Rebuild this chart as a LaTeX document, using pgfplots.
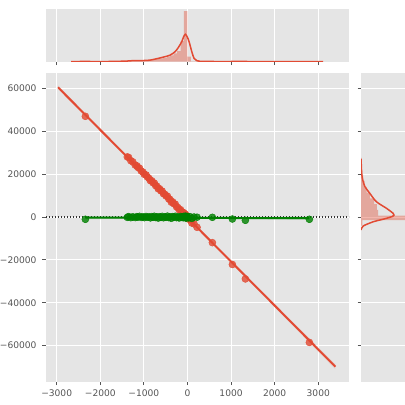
\documentclass[border=0pt]{standalone}
\usepackage{fontspec}
\setmainfont{DejaVu Sans}
\usepackage{pgfplots}
\usepackage{pgfplotstable}
\pgfplotsset{compat=1.18}
\definecolor{bgc}{HTML}{E5E5E5}
\definecolor{ora}{HTML}{E24A33}
\definecolor{grn}{HTML}{008000}
\definecolor{tickc}{HTML}{555555}
\definecolor{dotc}{HTML}{333333}
\pgfplotstableread{
x g o
-2342 -1070 46950
-1380 -150 28040
-1350 200 27775
-1300 -300 26250
-1255 100 25728
-1200 -250 24250
-1163 150 23892
-1140 -100 23170
-1100 300 22750
-1060 -200 21430
-1020 100 20910
-990 -300 19895
-950 250 19625
-920 -100 18660
-880 50 17990
-850 -400 16925
-820 200 16910
-790 -150 15945
-760 350 15830
-730 -250 14615
-700 100 14350
-670 -500 13135
-640 150 13170
-610 -200 12205
-580 300 12090
-550 -350 10825
-520 50 10610
-490 -150 9795
-460 400 9730
-430 -250 8465
-400 100 8200
-370 -600 6885
-340 200 7070
-310 -100 6155
-280 350 5990
-250 -300 4725
-220 0 4410
-190 -450 3345
-160 250 3430
-130 -200 2365
-110 100 2255
-95 -350 1498
-85 300 1943
-75 -100 1338
-65 150 1383
-55 -250 778
-50 400 1325
-45 -150 673
-40 50 770
-35 -500 118
-30 200 715
-25 -300 113
-20 100 410
-15 -200 8
-10 300 405
-5 -100 -98
20 -400 -910
60 150 -1180
100 -650 -2800
150 0 -3175
220 -100 -4800
571 -150 -11956
1030 -930 -22145
1328 -1540 -28864
2796 -1070 -58488
}\datatable
\pgfplotsset{
  ggbase/.style={
    scale only axis,
    axis background/.style={fill=bgc},
    axis lines=box,
    axis line style={draw=none},
    grid style={white, line width=0.9bp},
    tick style={tickc, line width=0.8bp},
    major tick length=3.5bp,
    tick align=outside,
    tick label style={font=\fontsize{9.1bp}{11bp}\selectfont, text=tickc, inner sep=0pt},
    scaled ticks=false,
  }
}
\begin{document}
\begin{tikzpicture}
% main joint axis
\begin{axis}[ggbase, at={(46bp,23.3bp)}, anchor=south west,
  width=303bp, height=309bp,
  xmin=-3245, xmax=3705, ymin=-76800, ymax=67300,
  xtick={-3000,-2000,-1000,0,1000,2000,3000},
  xticklabels={−3000,−2000,−1000,0,1000,2000,3000},
  ytick={-60000,-40000,-20000,0,20000,40000,60000},
  yticklabels={−60000,−40000,−20000,0,20000,40000,60000},
  grid=major, xtick pos=lower, ytick pos=left,
  xticklabel shift=4.8bp, yticklabel shift=5.8bp]
  \draw[color=dotc, line width=1.2bp, dash pattern=on 1.2bp off 1.8bp] (axis cs:-3245,0) -- (axis cs:3705,0);
  \addplot[fill=ora, fill opacity=0.12, draw=none] coordinates {(-2968,61360) (0,-125) (3392,-68593) (3392,-70993) (0,-525) (-2968,59560)} --cycle;
  \addplot[color=ora, only marks, mark=*, mark size=3.5bp, mark options={draw=none, fill=ora, fill opacity=0.8}] table[x=x, y=o] {\datatable};
  \addplot[fill=grn, fill opacity=0.2, draw=none] coordinates {(-2342,400) (0,-250) (2796,200) (2796,-1300) (0,-550) (-2342,-1000)} --cycle;
  \addplot[color=grn, only marks, mark=*, mark size=3.5bp, mark options={draw=none, fill=grn, fill opacity=0.8}] table[x=x, y=g] {\datatable};
  \addplot[grn, line width=2bp] coordinates {(-2342,-300) (2796,-550)};
  \addplot[ora, line width=2bp] coordinates {(-2968,60460) (3392,-69793)};
\end{axis}
% top marginal
\begin{axis}[ggbase, at={(46bp,343.3bp)}, anchor=south west,
  width=303bp, height=52.7bp,
  xmin=-3245, xmax=3705, ymin=0, ymax=1,
  xtick={-3000,-2000,-1000,0,1000,2000,3000}, xticklabels={},
  ytick=\empty, xmajorgrids, xtick pos=lower]
  \addplot[const plot, fill=ora, fill opacity=0.4, draw=none] coordinates {
    (-2400,0.005) (-2320,0) (-1440,0.01) (-1040,0.02) (-960,0.03) (-720,0.06)
    (-640,0.063) (-560,0.07) (-480,0.095) (-400,0.12) (-320,0.16) (-240,0.20)
    (-160,0.39) (-80,0.96) (0,0.095) (80,0.005) (320,0) (560,0.005) (640,0)
    (1000,0.005) (1080,0) (1320,0.005) (1400,0) (2800,0.005) (2880,0)} \closedcycle;
  \addplot[ora, line width=1.5bp, smooth] coordinates {
    (-2670,0) (-2500,0.003) (-2350,0.006) (-2200,0.003) (-2000,0.002) (-1700,0.005)
    (-1550,0.008) (-1392,0.012) (-1250,0.02) (-1163,0.022) (-1011,0.022) (-858,0.03)
    (-704,0.057) (-553,0.087) (-399,0.125) (-284,0.19) (-209,0.27) (-131,0.38)
    (-90,0.47) (-48,0.52) (-5,0.47) (37,0.38) (99,0.19) (151,0.063) (213,0.02)
    (289,0.007) (400,0.004) (571,0.004) (800,0.002) (1030,0.004) (1330,0.004)
    (1700,0.001) (2200,0.001) (2796,0.003) (3110,0)};
\end{axis}
% right marginal
\begin{axis}[ggbase, at={(361bp,23.3bp)}, anchor=south west,
  width=44bp, height=309bp,
  xmin=0, xmax=1, ymin=-76800, ymax=67300,
  xtick=\empty,
  ytick={-60000,-40000,-20000,0,20000,40000,60000}, yticklabels={},
  ymajorgrids, ytick pos=left]
  \addplot[fill=ora, fill opacity=0.4, draw=none] coordinates {
    (0,-4000) (0.03,-4000) (0.03,-1400) (1.3,-1400) (1.3,600) (0.39,600) (0.39,3300)
    (0.36,3300) (0.36,6000) (0.30,6000) (0.30,8700) (0.20,8700) (0.20,11400)
    (0.13,11400) (0.13,14100) (0.08,14100) (0.08,16800) (0.05,16800) (0.05,19500)
    (0.03,19500) (0.03,22200) (0.02,22200) (0.02,27600) (0,27600)} --cycle;
  \addplot[ora, line width=1.5bp, smooth] coordinates {
    (0,-6060) (0.05,-4200) (0.28,-2200) (0.45,-1300) (0.58,-600) (0.72,300)
    (0.75,930) (0.73,1720) (0.58,4050) (0.35,7130) (0.2,11050) (0.09,14130)
    (0.04,17250) (0.015,20370) (0.005,25000) (0,27000)};
\end{axis}
\pgfresetboundingbox
\path[use as bounding box] (0,0) rectangle (405bp,405bp);
\end{tikzpicture}
\end{document}
